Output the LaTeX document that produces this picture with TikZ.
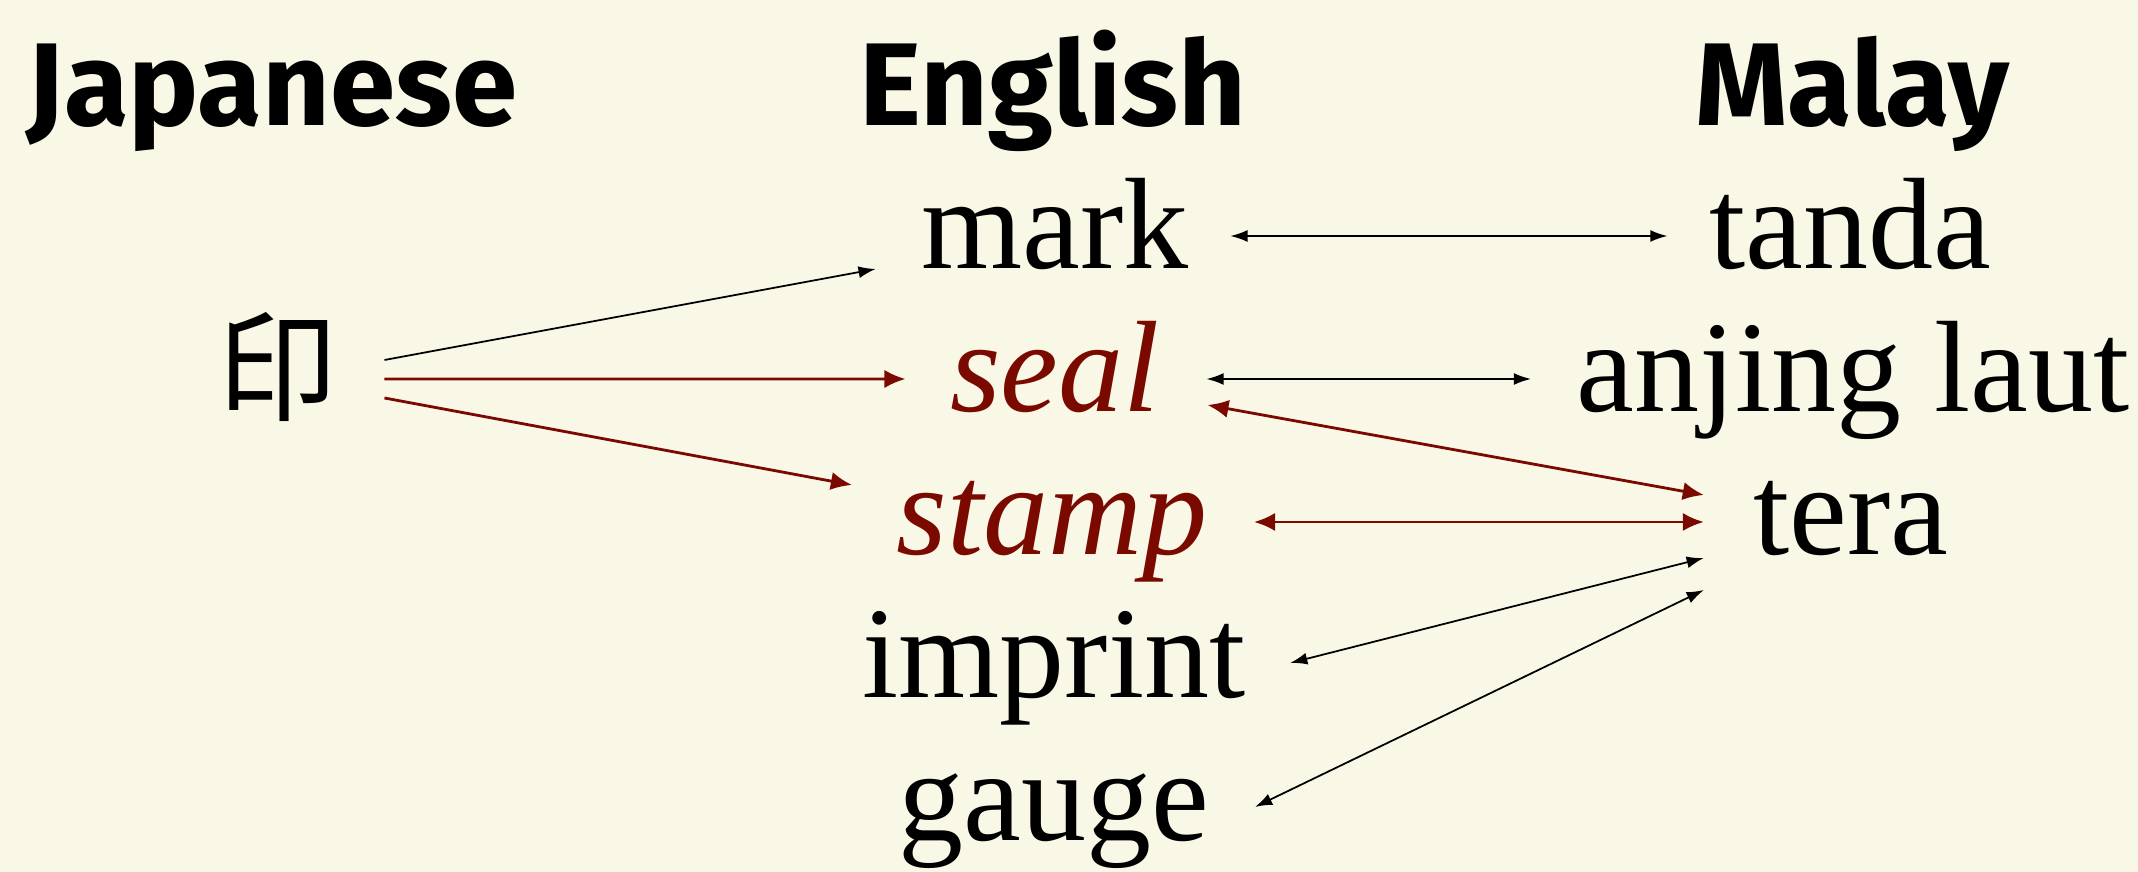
\documentclass[tikz,border=0pt]{standalone}
\usepackage{fontspec}
\setmainfont{Liberation Serif}
\newfontfamily\headfont{Fira Sans}
\newfontfamily\jpfont{Noto Sans CJK JP}
\usetikzlibrary{arrows.meta}
\definecolor{paper}{RGB}{249,247,230}
\definecolor{sealred}{RGB}{122,10,0}

\begin{document}
\begin{tikzpicture}[
  head/.style={anchor=base,inner sep=0pt,font=\headfont\bfseries\fontsize{33.5}{40}\selectfont},
  word/.style={anchor=base,inner sep=0pt,font=\fontsize{37}{44}\selectfont},
  hit/.style={word,text=sealred,font=\fontsize{37}{44}\selectfont\itshape},
  link/.style={line width=0.5pt,>={Latex[length=4.9pt,width=3.4pt]}},
  redlink/.style={draw=sealred,line width=0.8pt,>={Latex[length=6pt,width=5.2pt]}}
]
  \useasboundingbox (0,0) rectangle (21.38,8.72);
  \fill[paper] (0,0) rectangle (21.38,8.72);
  \node[head] (jphead) at (2.72,7.46) {Japanese};
  \node[head] (enhead) at (10.53,7.46) {English};
  \node[head] (myhead) at (18.52,7.46) {Malay};
  \node[inner sep=0pt,font=\jpfont\fontsize{34}{40}\selectfont] (jp) at (2.77,5.05) {印};
  \node[word] (mark) at (10.55,6.03) {mark};
  \node[hit] (seal) at (10.55,4.60) {seal};
  \node[hit] (stamp) at (10.52,3.17) {stamp};
  \node[word] (imprint) at (10.54,1.74) {imprint};
  \node[word] (gauge) at (10.54,0.31) {gauge};
  \node[word] (tanda) at (18.50,6.03) {tanda};
  \node[word] (anjing) at (18.53,4.60) {anjing laut};
  \node[word] (tera) at (18.51,3.17) {tera};
  \draw[link,->] ([shift={(0.47,0.07)}]jp.east) -- ([shift={(-0.45,0)}]mark.base west);
  \draw[redlink,->] ([shift={(0.47,-0.12)}]jp.east) -- ([shift={(-0.44,0.33)}]seal.base west);
  \draw[redlink,->] ([shift={(0.47,-0.31)}]jp.east) -- ([shift={(-0.44,0.70)}]stamp.base west);
  \draw[link,<->] ([shift={(0.41,0.33)}]mark.base east) -- ([shift={(-0.41,0.33)}]tanda.base west);
  \draw[link,<->] ([shift={(0.46,0.33)}]seal.base east) -- ([shift={(-0.45,0.33)}]anjing.base west);
  \draw[redlink,<->] ([shift={(0.47,0.07)}]seal.base east) -- ([shift={(-0.49,0.60)}]tera.base west);
  \draw[redlink,<->] ([shift={(0.46,0.33)}]stamp.base east) -- ([shift={(-0.49,0.33)}]tera.base west);
  \draw[link,<->] ([shift={(0.44,0.35)}]imprint.base east) -- ([shift={(-0.49,-0.03)}]tera.base west);
  \draw[link,<->] ([shift={(0.45,0.34)}]gauge.base east) -- ([shift={(-0.49,-0.35)}]tera.base west);
\end{tikzpicture}
\end{document}
